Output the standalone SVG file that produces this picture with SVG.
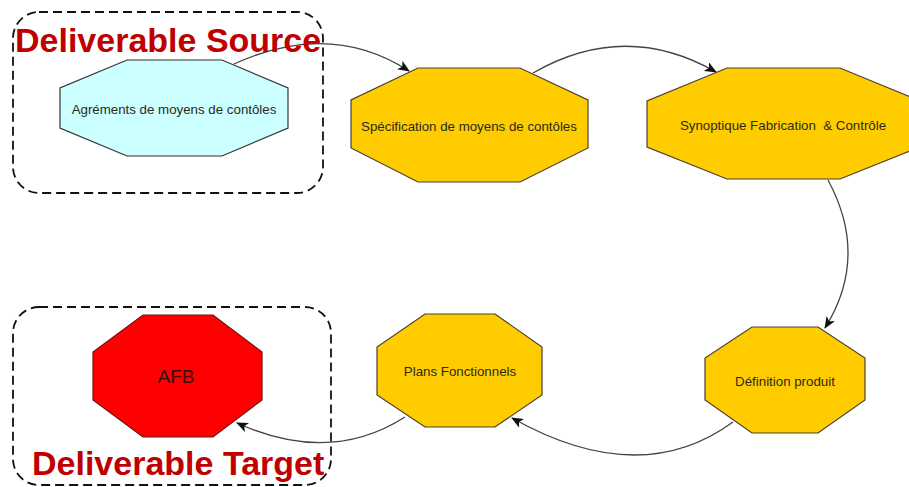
<svg xmlns="http://www.w3.org/2000/svg" width="909" height="487" viewBox="0 0 909 487">
<defs>
<style>
.grp{fill:none;stroke:#111;stroke-width:1.8;stroke-dasharray:9 5}
.grplbl{font-family:"Liberation Sans",Arial,sans-serif;font-weight:bold;font-size:34px;fill:#c00000}
.oct{stroke:#4a4030;stroke-width:1.2}
.y{fill:#ffcc00}
.c{fill:#ccffff;stroke:#333}
.r{fill:#ff0000;stroke:#7a1010}
.lbl{font-family:"Liberation Sans",Arial,sans-serif;font-size:13.3px;fill:#2a2a1a;text-anchor:middle;white-space:pre}
.edge{fill:none;stroke:#444;stroke-width:1.3;marker-end:url(#arr)}
</style>
<marker id="arr" viewBox="0 0 12 10" refX="11" refY="5" markerWidth="12" markerHeight="10" markerUnits="userSpaceOnUse" orient="auto">
<path d="M0,0 L12,5 L0,10 L3,5 Z" fill="#111"/>
</marker>
</defs>
<rect width="909" height="487" fill="#ffffff"/>

<g id="group-source">
<rect class="grp" x="13" y="12" width="310" height="181" rx="26" ry="26"/>
</g>
<g id="group-target">
<rect class="grp" x="13" y="307" width="318" height="178" rx="26" ry="26"/>
</g>

<g id="connectors">
<path class="edge" d="M234,64 Q330,20 409,71"/>
<path class="edge" d="M533,73 Q625,20 716,72"/>
<path class="edge" d="M828,180 C855,230 855,280 825,328"/>
<path class="edge" d="M733,422 Q640,490 512,418"/>
<path class="edge" d="M405,417 Q330,465 237,423"/>
</g>

<g id="node-agrements">
<polygon class="oct c" points="127,60 222,60 288,88 288,128 222,156 127,156 60,128 60,88"/>
<text class="lbl" x="174" y="114">Agréments de moyens de contôles</text>
</g>
<g id="node-specification">
<polygon class="oct y" points="418,68 520,68 588,100 588,148 520,182 418,182 351,148 351,100"/>
<text class="lbl" x="469" y="131">Spécification de moyens de contôles</text>
</g>
<g id="node-synoptique">
<polygon class="oct y" points="727,68 840,68 920,101 920,147 840,179 727,179 647,147 647,101"/>
<text class="lbl" x="783" y="130">Synoptique Fabrication  &amp; Contrôle</text>
</g>
<g id="node-definition">
<polygon class="oct y" points="752,327 818,327 865,358 865,400 818,433 752,433 705,400 705,358"/>
<text class="lbl" x="785" y="386">Définition produit</text>
</g>
<g id="node-plans">
<polygon class="oct y" points="425,314 495,314 542,347 542,395 495,427 425,427 377,395 377,347"/>
<text class="lbl" x="460" y="376">Plans Fonctionnels</text>
</g>
<g id="node-afb">
<polygon class="oct r" points="143,315 213,315 262,352 262,400 213,437 143,437 93,400 93,352"/>
<text class="lbl" x="176" y="383" style="font-size:19px;fill:#3a0a0a">AFB</text>
</g>

<text class="grplbl" x="15" y="52">Deliverable Source</text>
<text class="grplbl" x="32" y="475">Deliverable Target</text>
</svg>
